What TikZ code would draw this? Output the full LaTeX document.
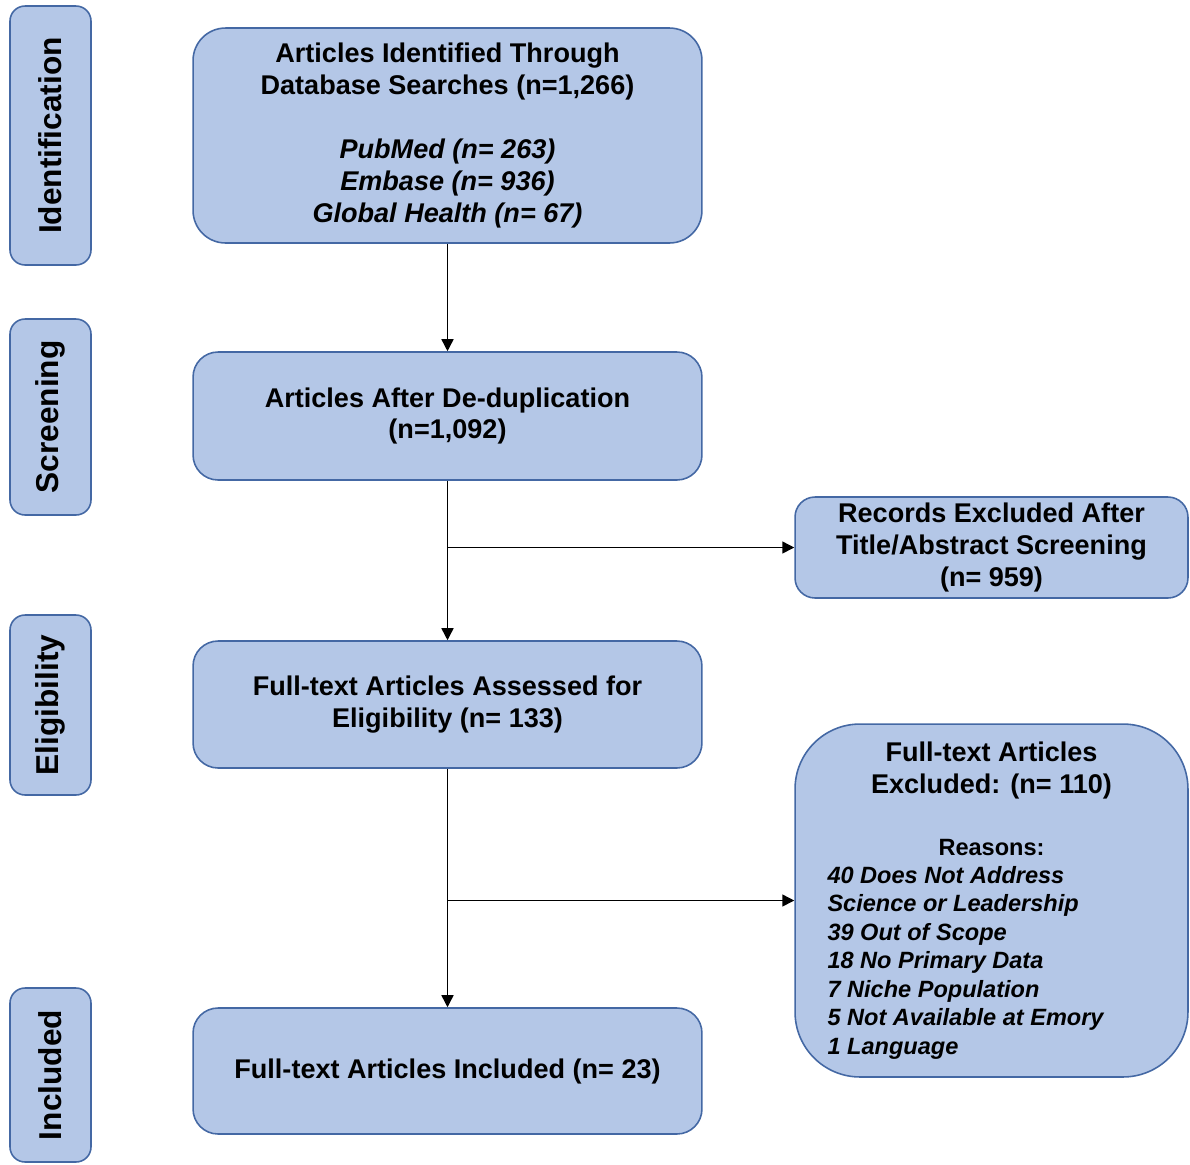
\documentclass[tikz,border=0pt]{standalone}
\usepackage{fontspec}
\setmainfont{Liberation Sans}
\usetikzlibrary{arrows.meta, positioning}

\definecolor{boxfill}{RGB}{180,199,231}
\definecolor{boxline}{RGB}{68,104,164}
\newcommand{\rsn}[1]{\makebox[6.56cm][l]{\fontsize{13.4}{16.2}\selectfont\itshape #1}}

\begin{document}
\begin{tikzpicture}[x=0.02cm, y=-0.02cm,
    box/.style={draw=boxline, fill=boxfill, line width=0.9pt, align=center,
        font=\fontsize{15.4}{18.2}\selectfont\bfseries},
    mainbox/.style={box, minimum width=10.18cm, rounded corners=0.5cm},
    sidebox/.style={box, minimum width=7.86cm},
    stage/.style={box, rotate=90, minimum height=1.62cm, rounded corners=0.3cm,
        font=\fontsize{18}{21}\selectfont\bfseries},
    arr/.style={-{Triangle[length=0.24cm, width=0.24cm]}, line width=0.85pt}]
        \useasboundingbox (0,0) rectangle (1190,1164);

        % stages on the left
        \node[stage, minimum width=5.18cm] (sid) at (50.5,135.5) {Identification};
        \node[stage, minimum width=3.92cm] (sscr) at (50.5,417) {Screening};
        \node[stage, minimum width=3.6cm] (self) at (50.5,705) {Eligibility};
        \node[stage, minimum width=3.48cm] (sinc) at (50.5,1075) {Included};

        % main column
        \node[mainbox, minimum height=4.3cm, rounded corners=0.65cm] (ident) at (447.5,135.5)
            {Articles Identified Through\\Database Searches (n=1,266)\\[18.7pt]
             \textit{PubMed (n= 263)}\\\textit{Embase (n= 936)}\\\textit{Global Health (n= 67)}};
        \node[mainbox, minimum height=2.56cm] (dedup) at (447.5,416)
            {Articles After De-duplication\\(n=1,092)};
        \node[mainbox, minimum height=2.54cm] (full) at (447.5,704.5)
            {Full-text Articles Assessed for\\Eligibility (n= 133)};
        \node[mainbox, minimum height=2.52cm] (incl) at (447.5,1071)
            {Full-text Articles Included (n= 23)};

        % exclusions
        \node[sidebox, minimum height=2.02cm, rounded corners=0.4cm] (rec) at (991.5,547.5)
            {Records Excluded After\\Title/Abstract Screening\\(n= 959)};
        \node[sidebox, minimum height=7.06cm, rounded corners=1.3cm] (exc) at (991.5,900.5)
            {Full-text Articles\\Excluded: (n= 110)\\[17pt]
             {\fontsize{13.4}{16.2}\selectfont Reasons:}\\[-2.3pt]
             \rsn{40 Does Not Address}\\[-2pt]
             \rsn{Science or Leadership}\\[-2pt]
             \rsn{39 Out of Scope}\\[-2pt]
             \rsn{18 No Primary Data}\\[-2pt]
             \rsn{7 Niche Population}\\[-2pt]
             \rsn{5 Not Available at Emory}\\[-2pt]
             \rsn{1 Language}};

        \coordinate (j1) at (447.5,547.5);
        \coordinate (j2) at (447.5,900.5);

        \draw[arr] (ident) -- (dedup);
        \draw[arr] (dedup) -- (full);
        \draw[arr] (full) -- (incl);
        \draw[arr] (j1) -- (rec);
        \draw[arr] (j2) -- (exc);
\end{tikzpicture}
\end{document}
